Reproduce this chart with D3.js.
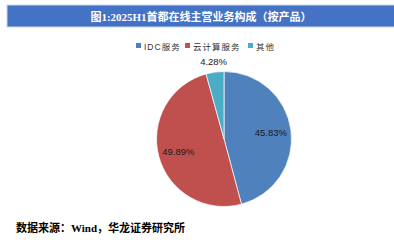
<!DOCTYPE html>
<html><head><meta charset="utf-8">
<script src="https://cdn.jsdelivr.net/npm/d3@7"></script>
<style>
html,body{margin:0;padding:0;background:#fff;}
svg{display:block;}
</style></head>
<body>
<svg id="c" width="394" height="247"></svg>
<script>
const title = "图1:2025H1首都在线主营业务构成（按产品）";
const source = "数据来源：Wind，华龙证券研究所";
const categories = ["IDC服务", "云计算服务", "其他"];
const values = [45.83, 49.89, 4.28];
const labels = ["45.83%", "49.89%", "4.28%"];
const colors = ["#4f81bd", "#c0504d", "#4bacc6"];

const svg = d3.select("#c");
const W = 394, H = 247;
const serif = "'Liberation Serif','Times New Roman','Noto Sans CJK SC',serif";
const sans = "'Liberation Sans','DejaVu Sans','Noto Sans CJK SC',sans-serif";

// title bar
svg.append("rect").attr("x", 7).attr("y", 5).attr("width", 388).attr("height", 22)
  .attr("fill", "#4472c4").attr("stroke", "#c9d5ee").attr("stroke-width", 1);
svg.append("text").attr("x", 201).attr("y", 20.5).attr("text-anchor", "middle")
  .attr("fill", "#fff").attr("font-family", serif).attr("font-weight", "bold")
  .attr("font-size", 11).text(title);

// legend
const legendX = [136, 185, 248];
const lg = svg.append("g");
categories.forEach((c, i) => {
  lg.append("rect").attr("x", legendX[i]).attr("y", 43).attr("width", 5).attr("height", 5)
    .attr("fill", colors[i]);
  lg.append("text").attr("x", legendX[i] + 8).attr("y", 49.5)
    .attr("font-family", sans).attr("font-size", 8.5).attr("fill", "#333")
    .attr("letter-spacing", 1).text(c);
});

// pie
const cx = 224, cy = 139, R = 67.5;
const pie = d3.pie().sort(null).value(d => d)(values);
const arc = d3.arc().innerRadius(0).outerRadius(R);
const g = svg.append("g").attr("transform", `translate(${cx},${cy})`);
g.selectAll("path").data(pie).join("path")
  .attr("d", arc).attr("fill", (d, i) => colors[i])
  .attr("stroke", "#fff").attr("stroke-width", 0.7);

const inArc = d3.arc().innerRadius(R * 0.7).outerRadius(R * 0.7);
const outArc = d3.arc().innerRadius(R * 1.15).outerRadius(R * 1.15);
g.selectAll("text.lbl").data(pie).join("text").attr("class", "lbl")
  .attr("transform", (d, i) => `translate(${(i === 2 ? outArc : inArc).centroid(d)})`)
  .attr("text-anchor", "middle").attr("dy", "0.35em")
  .attr("font-family", sans).attr("font-size", 9.5).attr("fill", "#1a1a1a")
  .text((d, i) => labels[i]);

// source
svg.append("text").attr("x", 16).attr("y", 232)
  .attr("font-family", serif).attr("font-weight", "bold").attr("font-size", 11)
  .attr("fill", "#000").text(source);
</script>
</body></html>
